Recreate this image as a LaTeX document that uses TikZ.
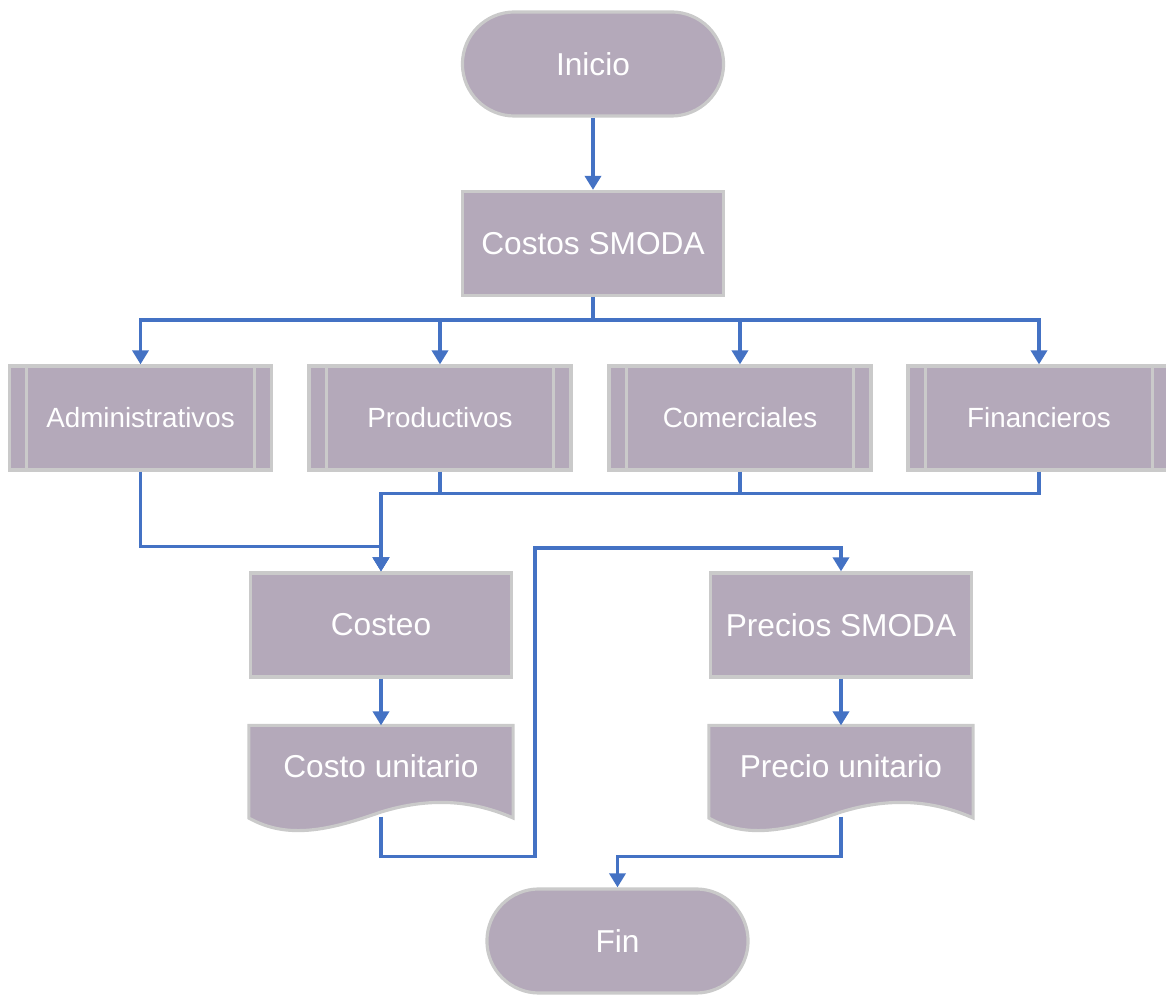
\documentclass[tikz,border=0pt]{standalone}
\usepackage{fontspec}
\setmainfont{Liberation Sans}
\usetikzlibrary{arrows.meta, backgrounds}

\definecolor{boxfill}{HTML}{B4A9BA}
\definecolor{boxline}{HTML}{CACACA}
\definecolor{flow}{HTML}{4472C4}

\tikzset{
    box/.style={draw=boxline, line width=0.9pt, fill=boxfill, text=white,
        minimum width=2.61cm, minimum height=1.04cm, inner sep=0pt, font=\fontsize{9}{11}\selectfont},
    term/.style={box, rounded corners=0.52cm},
    subproc/.style={box, minimum width=2.62cm, font=\fontsize{7.9}{9.5}\selectfont},
    doc/.style={box, draw=none, fill=none, minimum height=0.78cm},
    arrow/.style={draw=flow, line width=1pt, -{Triangle[width=0.16cm, length=0.14cm]}},
    link/.style={draw=flow, line width=1pt}
}

\begin{document}
\begin{tikzpicture}[x=0.01cm, y=-0.01cm]
    \useasboundingbox (0,0) rectangle (1166,995);

    \node[term] (ini) at (593,64) {Inicio};
    \node[box] (cs) at (593,243.5) {Costos SMODA};

    \node[subproc] (adm)   at (140.5,418) {Administrativos};
    \node[subproc] (prod)  at (440,418)   {Productivos};
    \node[subproc] (com)   at (740,418)   {Comerciales};
    \node[subproc] (finan) at (1039,418)  {Financieros};
    \foreach \n in {adm,prod,com,finan} {
        \draw[boxline, line width=0.9pt] ([xshift=0.19cm]\n.north west) -- ([xshift=0.19cm]\n.south west);
        \draw[boxline, line width=0.9pt] ([xshift=-0.19cm]\n.north east) -- ([xshift=-0.19cm]\n.south east);
    }

    \node[box] (cost) at (381,625) {Costeo};
    \node[box] (ps) at (841,625) {Precios SMODA};
    \node[doc] (cu) at (381,766) {Costo unitario};
    \node[doc] (pu) at (841,766) {Precio unitario};

    % document shapes with wavy bottom
    \begin{scope}[on background layer]
        \foreach \n in {cu,pu} {
            \draw[boxline, line width=0.9pt, fill=boxfill]
                (\n.north west) -- (\n.north east)
                -- ([yshift=-0.52cm]\n.east)
                .. controls ++(-41,-18) and ++(49,-15) .. ([yshift=-0.46cm]\n.center)
                .. controls ++(-51,18) and ++(39,22) .. ([yshift=-0.52cm]\n.west)
                -- cycle;
        }
    \end{scope}
    \coordinate (cuout) at ([yshift=-0.1cm]cu.south);
    \coordinate (puout) at ([yshift=-0.1cm]pu.south);
    \coordinate (jog) at (535,548);

    \node[term] (fin) at (617.5,941) {Fin};

    \draw[arrow] (ini) -- (cs);
    \foreach \n in {adm,prod,com,finan}
        \draw[arrow] (cs.south) -- ++(0,23) -| (\n.north);

    \draw[link] (adm.south) |- ([yshift=0.25cm]cost.north);
    \foreach \n in {prod,com,finan}
        \draw[arrow] (\n.south) -- ++(0,22) -| (cost.north);

    \draw[arrow] (cost) -- (cu);
    \draw[arrow] (cuout) -- ++(0,40) -| (jog) -| (ps.north);
    \draw[arrow] (ps) -- (pu);
    \draw[arrow] (puout) -- ++(0,40) -| (fin.north);
\end{tikzpicture}
\end{document}
